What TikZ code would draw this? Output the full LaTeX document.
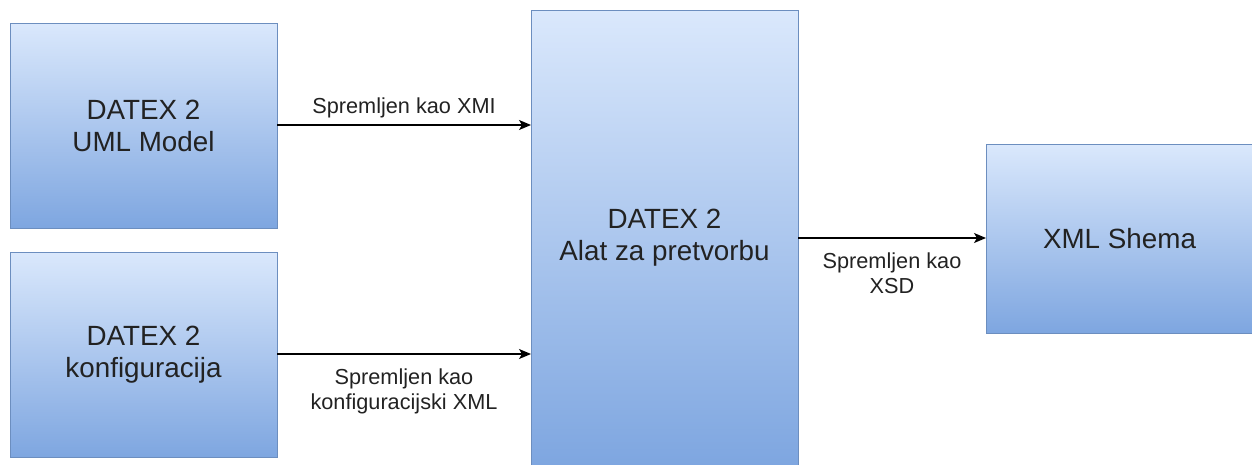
\documentclass[tikz,border=0pt]{standalone}
\usepackage{fontspec}
\setmainfont{Liberation Sans}
\usepackage{tikz}
\usetikzlibrary{calc,arrows,arrows.meta}

\definecolor{boxtop}{HTML}{DAE8FC}
\definecolor{boxbot}{HTML}{7EA6E0}
\definecolor{boxline}{HTML}{6C8EBF}
\definecolor{txt}{HTML}{222222}

\begin{document}
\begin{tikzpicture}[x=1pt,y=-1pt,
    blok/.style={draw=boxline,line width=1pt,top color=boxtop,bottom color=boxbot,
                 minimum width=267pt,inner sep=0pt,outer sep=0pt,align=center,
                 text=txt,font=\fontsize{27.8}{32}\selectfont},
    opis/.style={inner sep=0pt,align=center,text=txt,font=\fontsize{21.7}{25}\selectfont},
    strelica/.style={-{Stealth[length=12pt,width=10pt,inset=3pt]},line width=1.2pt,black}]
    \useasboundingbox (0,0) rectangle (1252,464);
    % kutije
    \node[blok,minimum height=205pt](uml)at(143.5,125.5){DATEX 2\\UML Model};
    \node[blok,minimum height=205pt](konf)at(143.5,354.5){DATEX 2\\konfiguracija};
    \node[blok,minimum height=456pt](alat)at(664.5,238){DATEX 2\\Alat za pretvorbu};
    \node[blok,minimum height=189pt](xsd)at(1119.5,238.5){XML Shema};
    % veze
    \draw[strelica] (uml.east|-0,125) -- (alat.west|-0,125)
        node[opis,midway,anchor=base,yshift=12pt]{Spremljen kao XMI};
    \draw[strelica] (konf.east|-0,354) -- (alat.west|-0,354)
        node[opis,midway,anchor=north,yshift=-14pt]{Spremljen kao\\konfiguracijski XML};
    \draw[strelica] (alat.east|-0,238) -- (xsd.west|-0,238)
        node[opis,midway,anchor=north,yshift=-14pt]{Spremljen kao\\XSD};
\end{tikzpicture}
\end{document}
